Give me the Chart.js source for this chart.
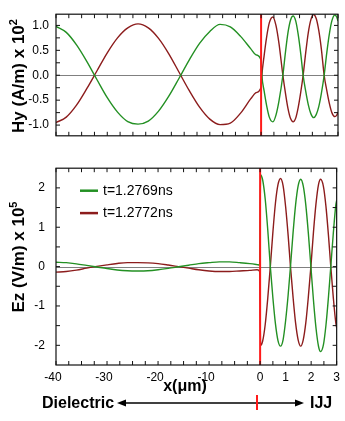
<!DOCTYPE html>
<html>
<head>
<meta charset="utf-8">
<script src="https://cdn.jsdelivr.net/npm/chart.js@4.4.1/dist/chart.umd.min.js"></script>
<style>
  html, body { margin: 0; padding: 0; background: #fff; }
  #wrap { position: relative; width: 345px; height: 421px; overflow: hidden;
          font-family: "Liberation Sans", Arial, Helvetica, sans-serif; color: #000; }
  canvas { position: absolute; left: 0; }
  #hy { top: 0; }
  #ez { top: 150px; }
  .lbl { position: absolute; white-space: nowrap; font-weight: bold; line-height: 1; }
  .ytitle { font-size: 17px; transform: translate(-50%, -50%) rotate(-90deg); }
  .ytitle sup { font-size: 11px; vertical-align: 0.6em; line-height: 0; }
</style>
</head>
<body>
<div id="wrap">
  <canvas id="hy" width="345" height="150"></canvas>
  <canvas id="ez" width="345" height="271"></canvas>

  <div class="lbl ytitle" style="left:18px; top:76px;">Hy (A/m) x 10<sup>2</sup></div>
  <div class="lbl ytitle" style="left:18px; top:257px;">Ez (V/m) x 10<sup>5</sup></div>
  <div class="lbl" style="left:185px; top:386px; font-size:16px; transform:translate(-50%,-50%);">x(&mu;m)</div>
  <div class="lbl" style="left:42px; top:403px; font-size:16px; transform:translateY(-50%);">Dielectric</div>
  <div class="lbl" style="left:310px; top:403px; font-size:16px; transform:translateY(-50%);">IJJ</div>

  <svg width="345" height="421" style="position:absolute; left:0; top:0; pointer-events:none">
    <line x1="122" y1="403" x2="299" y2="403" stroke="#000" stroke-width="1.5"/>
    <polygon points="117,403 126,399.5 126,406.5" fill="#000"/>
    <polygon points="304,403 295,399.5 295,406.5" fill="#000"/>
    <line x1="257" y1="395" x2="257" y2="410" stroke="#ff1a1a" stroke-width="2"/>
  </svg>
</div>

<script>
// 1 µm inside the junction takes as much axis room as 5 µm of dielectric
const IJJ_STRETCH = 5;

const seriesLabels = ['t=1.2769ns', 't=1.2772ns'];

// Hy panel (A/m x 10^2)
const hyX = [-40, -38, -36, -34, -32, -30, -28, -26, -24, -22, -20, -18, -16, -14, -12, -10, -8, -6, -4, -2, -1, 0,
  0.03, 0.12, 0.22, 0.32, 0.46, 0.58, 0.7, 0.85, 0.95, 1.05, 1.15, 1.25, 1.35, 1.45, 1.55,
  1.64, 1.74, 1.84, 1.94, 2.05, 2.15, 2.25, 2.35, 2.46, 2.56, 2.66, 2.76, 2.88, 2.95, 3.0];
const hyEarly = [0.98, 0.86, 0.61, 0.28, -0.09, -0.45, -0.74, -0.93, -0.98, -0.92, -0.72, -0.42, -0.06, 0.31, 0.64, 0.88, 1.02, 0.97, 0.78, 0.53, 0.41, 0.30,
  0, -0.32, -0.62, -0.84, -0.935, -0.80, -0.51, 0, 0.46, 0.86, 1.11, 1.19, 1.09, 0.81, 0.42,
  0, -0.32, -0.59, -0.77, -0.85, -0.79, -0.63, -0.37, 0, 0.44, 0.82, 1.09, 1.21, 1.17, 1.09];
const hyLate = [-0.95, -0.84, -0.60, -0.27, 0.09, 0.45, 0.75, 0.95, 1.03, 0.95, 0.74, 0.43, 0.06, -0.31, -0.64, -0.88, -0.99, -0.96, -0.76, -0.47, -0.35, -0.24,
  0, 0.40, 0.78, 1.05, 1.17, 1.00, 0.63, 0, -0.36, -0.67, -0.87, -0.935, -0.86, -0.64, -0.33,
  0, 0.45, 0.85, 1.11, 1.22, 1.14, 0.90, 0.53, 0, -0.30, -0.56, -0.75, -0.83, -0.80, -0.74];

// Ez panel (V/m x 10^5)
const ezX = [-40, -38, -36, -34, -32, -30, -28, -26, -24, -22, -20, -18, -16, -14, -12, -10, -8, -6, -4, -2, -0.6, -0.1,
  0.02, 0.1, 0.2, 0.3, 0.4, 0.5, 0.6, 0.7, 0.8, 0.9, 1.0, 1.1,
  1.19, 1.29, 1.39, 1.49, 1.59, 1.69, 1.79, 1.89,
  1.99, 2.09, 2.19, 2.29, 2.37, 2.48, 2.58, 2.68,
  2.77, 2.87, 2.97, 3.0];
const ezEarly = [0.11, 0.10, 0.07, 0.03, -0.01, -0.05, -0.085, -0.105, -0.11, -0.105, -0.08, -0.045, -0.005, 0.035, 0.075, 0.10, 0.12, 0.12, 0.10, 0.075, 0.05, 0.04,
  2.33, 2.2, 1.71, 0.93, 0, -0.79, -1.45, -1.88, -2.02, -1.86, -1.37, -0.71,
  0, 0.85, 1.57, 2.05, 2.22, 2.05, 1.57, 0.85,
  0, -0.85, -1.56, -2.03, -2.16, -1.99, -1.49, -0.76,
  0, 0.86, 1.58, 1.68];
const ezLate = [-0.14, -0.125, -0.09, -0.04, 0.005, 0.045, 0.08, 0.10, 0.10, 0.095, 0.075, 0.04, 0.0, -0.04, -0.08, -0.11, -0.125, -0.125, -0.11, -0.095, -0.08, -0.12,
  -2.0, -1.89, -1.47, -0.80, 0, 0.87, 1.61, 2.08, 2.24, 2.06, 1.52, 0.78,
  0, -0.77, -1.43, -1.86, -2.02, -1.86, -1.43, -0.77,
  0, 0.87, 1.60, 2.09, 2.22, 2.04, 1.53, 0.78,
  0, -0.80, -1.45, -1.55];

// ticks
const xTickLabels = [-40, -30, -20, -10, 0, 1, 2, 3];
const hyTickLabels = [-1.0, -0.5, 0.0, 0.5, 1.0];
const ezTickLabels = [-2, -1, 0, 1, 2];

const GREEN = '#239023';
const DARKRED = '#8c1c1c';

Chart.defaults.font.family = '"Liberation Sans", Arial, Helvetica, sans-serif';
Chart.defaults.font.size = 12;
Chart.defaults.color = '#000';

function toAxis(x) { return x < 0 ? x : x * IJJ_STRETCH; }
function points(xs, ys) { return xs.map((x, i) => ({ x: toAxis(x), y: ys[i] })); }
function steps(from, to, step) {
  const out = [];
  for (let v = from; v <= to + 1e-9; v += step) out.push(Math.round(v * 1000) / 1000);
  return out;
}

const xMinor = steps(-40, 15, 2.5);
const hyMinor = steps(-1, 1, 0.25);
const ezMinor = steps(-2, 2, 0.5);

const framePlugin = {
  id: 'frame',
  beforeDatasetsDraw(chart) {
    const { ctx, chartArea: a, scales: { y } } = chart;
    const y0 = Math.round(y.getPixelForValue(0)) + 0.5;
    ctx.save();
    ctx.strokeStyle = '#808080';
    ctx.lineWidth = 1;
    ctx.beginPath();
    ctx.moveTo(a.left, y0);
    ctx.lineTo(a.right, y0);
    ctx.stroke();
    ctx.restore();
  },
  afterDatasetsDraw(chart, args, opts) {
    const { ctx, chartArea: a, scales: { x, y } } = chart;
    ctx.save();
    // interface at x = 0
    const x0 = x.getPixelForValue(0);
    ctx.strokeStyle = '#ff1a1a';
    ctx.lineWidth = 2;
    ctx.beginPath();
    ctx.moveTo(x0, a.top);
    ctx.lineTo(x0, a.bottom);
    ctx.stroke();

    ctx.strokeStyle = '#111';
    ctx.lineWidth = 1.2;
    ctx.strokeRect(a.left, a.top, a.right - a.left, a.bottom - a.top);

    const len = 4;
    ctx.lineWidth = 1;
    ctx.beginPath();
    opts.xTicks.forEach(v => {
      const px = x.getPixelForValue(v);
      ctx.moveTo(px, a.top); ctx.lineTo(px, a.top + len);
      ctx.moveTo(px, a.bottom); ctx.lineTo(px, a.bottom - len);
    });
    opts.yTicks.forEach(v => {
      const py = y.getPixelForValue(v);
      ctx.moveTo(a.left, py); ctx.lineTo(a.left + len, py);
      ctx.moveTo(a.right, py); ctx.lineTo(a.right - len, py);
    });
    ctx.stroke();
    ctx.restore();
  }
};

const legendPlugin = {
  id: 'inlegend',
  afterDraw(chart, args, opts) {
    if (!opts.show) return;
    const { ctx, chartArea: a } = chart;
    ctx.save();
    ctx.font = '14px "Liberation Sans", Arial, sans-serif';
    ctx.textBaseline = 'middle';
    chart.data.datasets.forEach((ds, i) => {
      const yy = a.top + 22.5 + i * 22.4;
      ctx.strokeStyle = ds.borderColor;
      ctx.lineWidth = 2.5;
      ctx.beginPath();
      ctx.moveTo(a.left + 24, yy);
      ctx.lineTo(a.left + 42, yy);
      ctx.stroke();
      ctx.fillStyle = '#000';
      ctx.fillText(ds.label, a.left + 47, yy + 0.5);
    });
    ctx.restore();
  }
};

function makePanel(canvasId, xs, early, late, yMin, yMax, yMinor, yLabels, yFormat, yPad, showX, padding) {
  const ctx = document.getElementById(canvasId).getContext('2d');
  return new Chart(ctx, {
    type: 'line',
    data: {
      datasets: [
        { label: seriesLabels[0], data: points(xs, early), borderColor: GREEN },
        { label: seriesLabels[1], data: points(xs, late), borderColor: DARKRED }
      ]
    },
    options: {
      responsive: false,
      animation: false,
      layout: { padding: padding },
      elements: {
        point: { radius: 0 },
        line: { borderWidth: 1.4, cubicInterpolationMode: 'monotone' }
      },
      scales: {
        x: {
          type: 'linear',
          min: -40,
          max: 15,
          display: showX,
          grid: { display: false, drawTicks: false },
          border: { display: false },
          afterBuildTicks: (scale) => { scale.ticks = xMinor.map(v => ({ value: v })); },
          afterFit: (scale) => { scale.height = showX ? 56 : 0; },
          ticks: {
            autoSkip: false,
            maxRotation: 0,
            padding: 5,
            callback: (value) => {
              const um = value < 0 ? value : value / IJJ_STRETCH;
              if (!xTickLabels.includes(um)) return '';
              return um < 0 ? um + '\u2002' : String(um);
            }
          }
        },
        y: {
          min: yMin,
          max: yMax,
          grid: { display: false, drawTicks: false },
          border: { display: false },
          afterBuildTicks: (scale) => { scale.ticks = yMinor.map(v => ({ value: v })); },
          afterFit: (scale) => { scale.width = 56; },
          ticks: {
            autoSkip: false,
            padding: yPad,
            callback: (value) => yLabels.includes(value) ? yFormat(value) : ''
          }
        }
      },
      plugins: {
        legend: { display: false },
        tooltip: { enabled: false },
        frame: { xTicks: xMinor, yTicks: yMinor },
        inlegend: { show: showX }
      }
    },
    plugins: [framePlugin, legendPlugin]
  });
}

makePanel('hy', hyX, hyEarly, hyLate, -1.215, 1.225, hyMinor, hyTickLabels,
  v => v.toFixed(1), 7, false, { top: 5, right: 7, bottom: 6, left: 0 });
makePanel('ez', ezX, ezEarly, ezLate, -2.5, 2.5, ezMinor, ezTickLabels,
  v => String(v), 11, true, { top: 6, right: 7, bottom: 0, left: 0 });
</script>
</body>
</html>
